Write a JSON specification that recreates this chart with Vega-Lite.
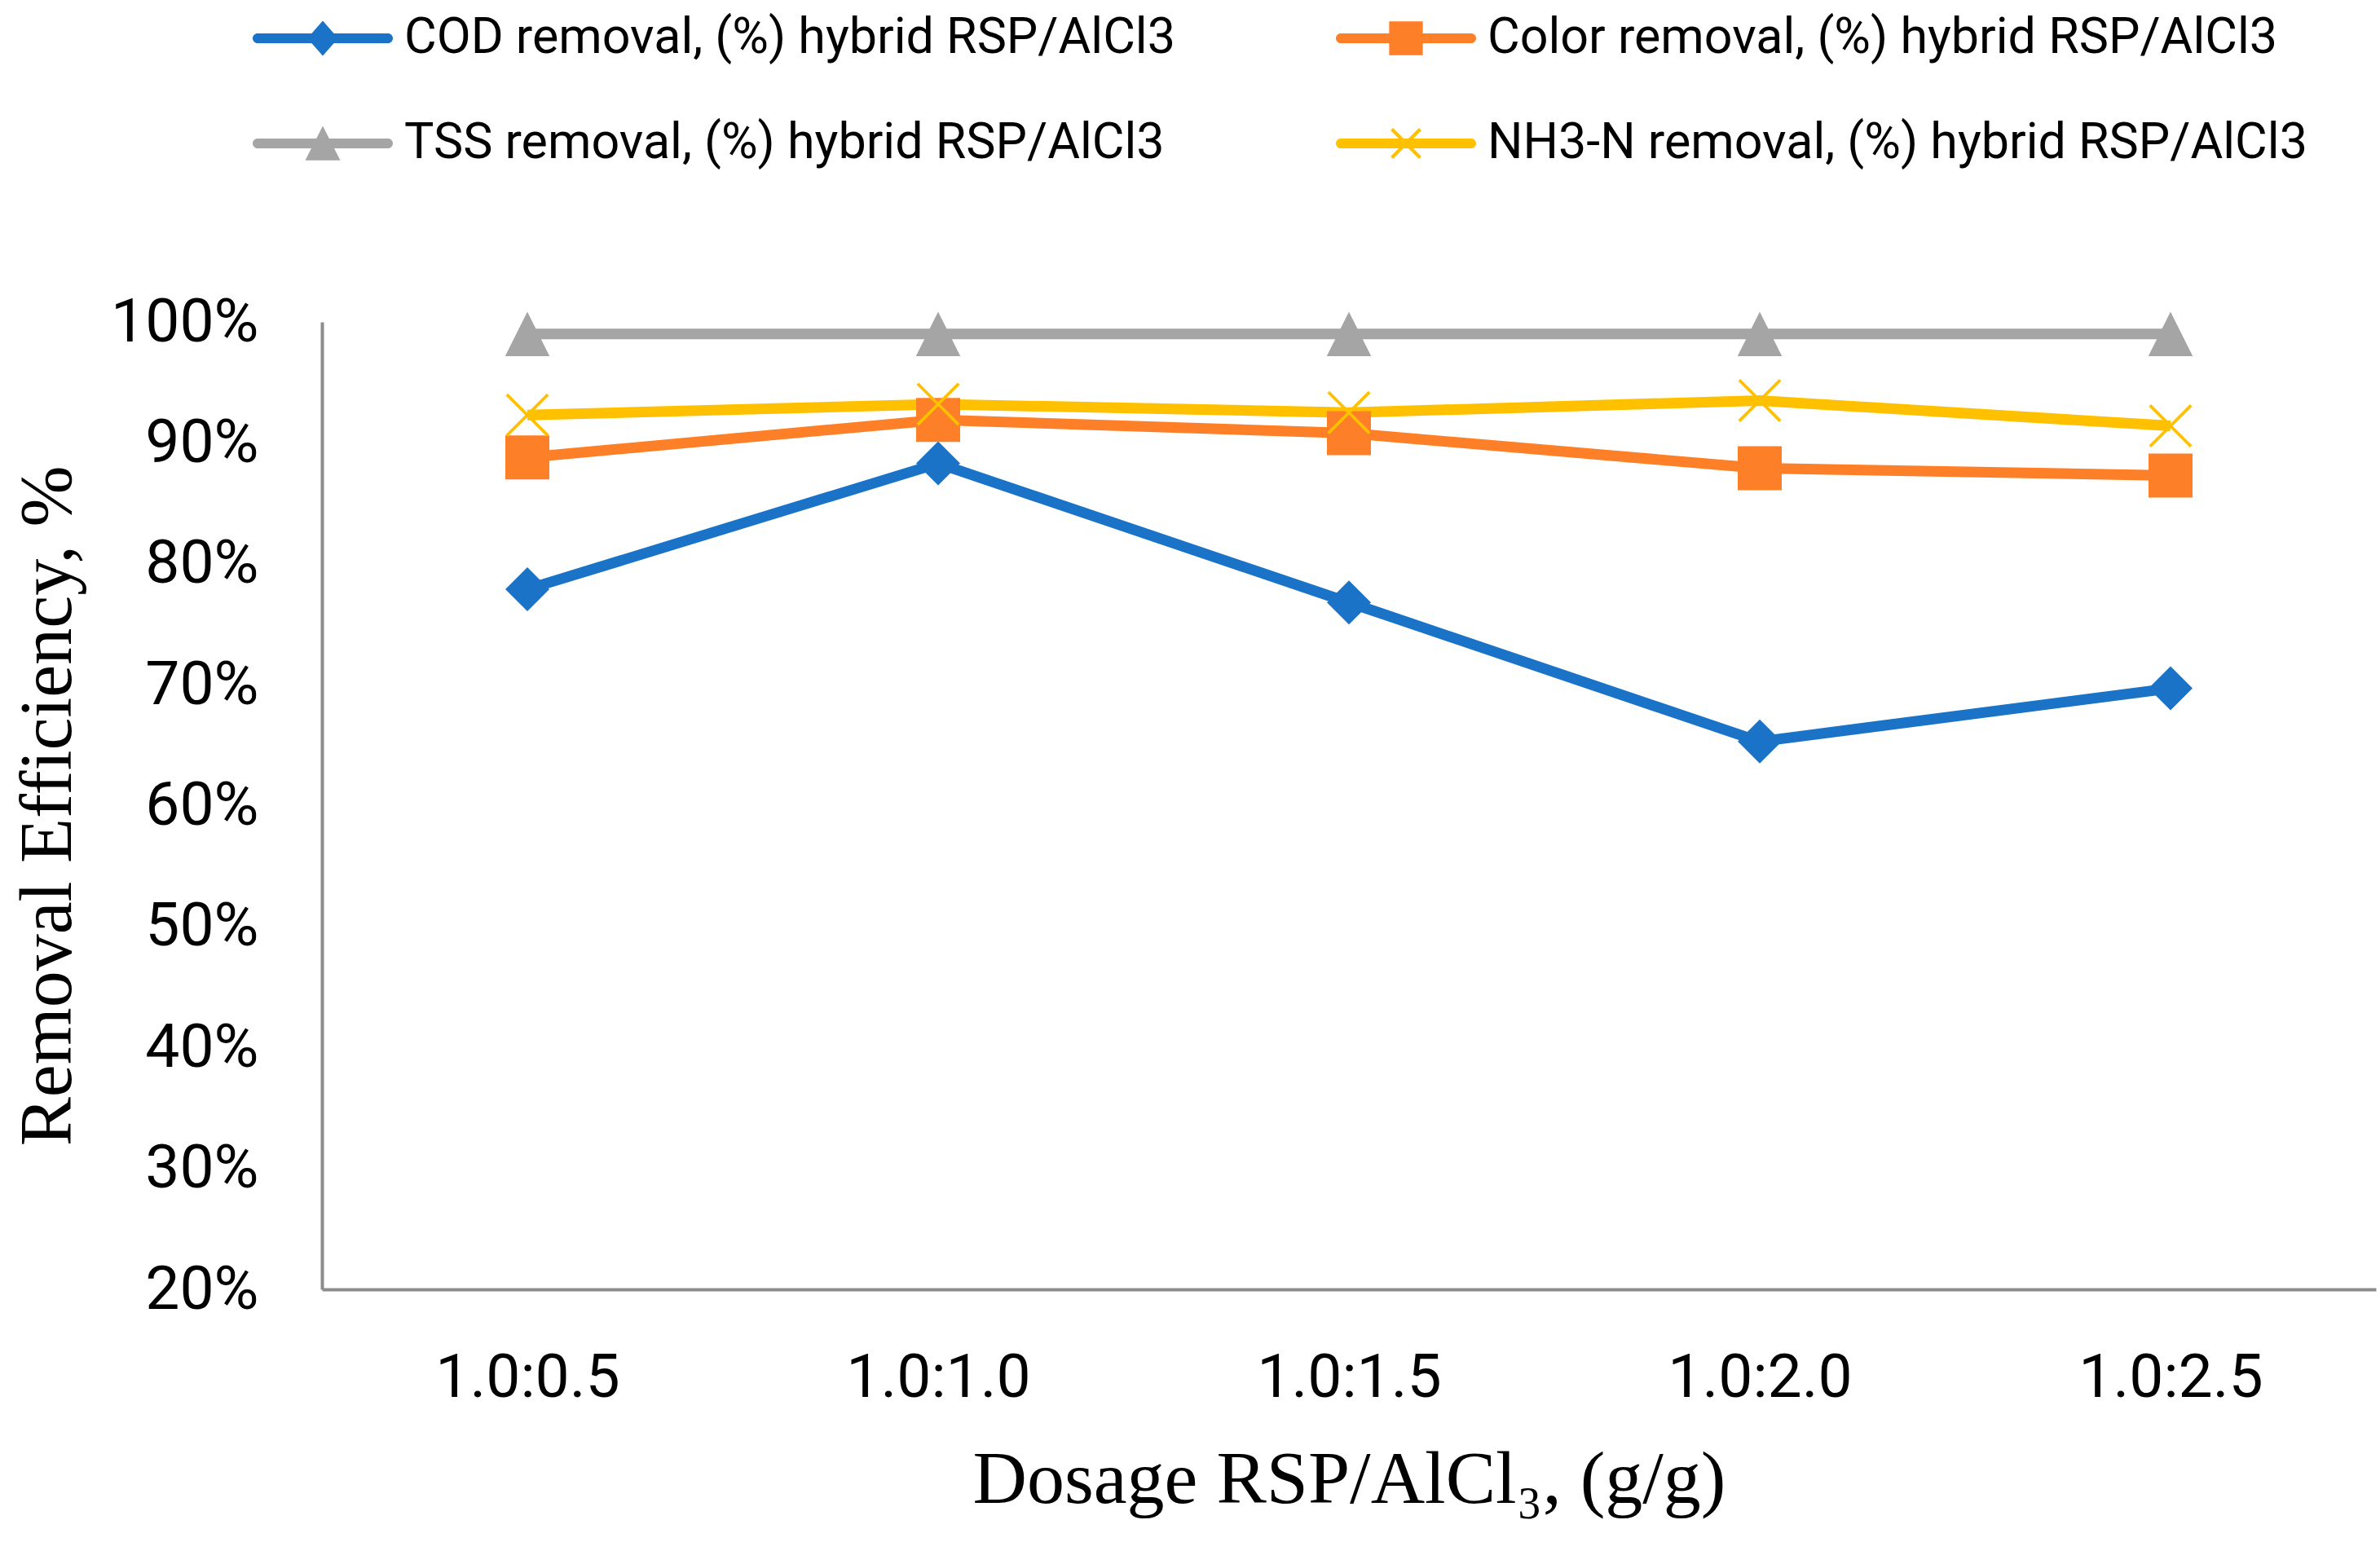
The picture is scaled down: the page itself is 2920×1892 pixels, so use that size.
{
  "$schema": "https://vega.github.io/schema/vega-lite/v6.json",
  "width": 2520,
  "height": 1187,
  "autosize": {"type": "none"},
  "padding": {"left": 395, "top": 395, "right": 5, "bottom": 310},
  "background": "white",
  "config": {"view": {"stroke": null}},
  "data": {"values": [
    {"dosage": "1.0:0.5", "series": "COD removal, (%) hybrid RSP/AlCl3", "value": 0.779},
    {"dosage": "1.0:1.0", "series": "COD removal, (%) hybrid RSP/AlCl3", "value": 0.883},
    {"dosage": "1.0:1.5", "series": "COD removal, (%) hybrid RSP/AlCl3", "value": 0.768},
    {"dosage": "1.0:2.0", "series": "COD removal, (%) hybrid RSP/AlCl3", "value": 0.653},
    {"dosage": "1.0:2.5", "series": "COD removal, (%) hybrid RSP/AlCl3", "value": 0.697},
    {"dosage": "1.0:0.5", "series": "Color removal, (%) hybrid RSP/AlCl3", "value": 0.888},
    {"dosage": "1.0:1.0", "series": "Color removal, (%) hybrid RSP/AlCl3", "value": 0.919},
    {"dosage": "1.0:1.5", "series": "Color removal, (%) hybrid RSP/AlCl3", "value": 0.908},
    {"dosage": "1.0:2.0", "series": "Color removal, (%) hybrid RSP/AlCl3", "value": 0.879},
    {"dosage": "1.0:2.5", "series": "Color removal, (%) hybrid RSP/AlCl3", "value": 0.873},
    {"dosage": "1.0:0.5", "series": "TSS removal, (%) hybrid RSP/AlCl3", "value": 0.990},
    {"dosage": "1.0:1.0", "series": "TSS removal, (%) hybrid RSP/AlCl3", "value": 0.990},
    {"dosage": "1.0:1.5", "series": "TSS removal, (%) hybrid RSP/AlCl3", "value": 0.990},
    {"dosage": "1.0:2.0", "series": "TSS removal, (%) hybrid RSP/AlCl3", "value": 0.990},
    {"dosage": "1.0:2.5", "series": "TSS removal, (%) hybrid RSP/AlCl3", "value": 0.990},
    {"dosage": "1.0:0.5", "series": "NH3-N removal, (%) hybrid RSP/AlCl3", "value": 0.923},
    {"dosage": "1.0:1.0", "series": "NH3-N removal, (%) hybrid RSP/AlCl3", "value": 0.932},
    {"dosage": "1.0:1.5", "series": "NH3-N removal, (%) hybrid RSP/AlCl3", "value": 0.925},
    {"dosage": "1.0:2.0", "series": "NH3-N removal, (%) hybrid RSP/AlCl3", "value": 0.935},
    {"dosage": "1.0:2.5", "series": "NH3-N removal, (%) hybrid RSP/AlCl3", "value": 0.914}
  ]},
  "encoding": {
    "x": {
      "field": "dosage", "type": "nominal",
      "scale": {"type": "point", "padding": 0.5},
      "axis": {
        "title": "Dosage RSP/AlCl₃, (g/g)",
        "titleFont": "Liberation Serif", "titleFontSize": 92, "titleFontWeight": "normal", "titleColor": "black",
        "titlePadding": 42,
        "labelFont": "Roboto", "labelFontSize": 75, "labelColor": "black", "labelAngle": 0,
        "labelPadding": 72, "labelLimit": 1000,
        "ticks": false, "tickSize": 0, "grid": false,
        "domainColor": "#8C8C8C", "domainWidth": 4
      }
    },
    "y": {
      "field": "value", "type": "quantitative",
      "scale": {"domain": [0.2, 1.0], "nice": false, "zero": false},
      "axis": {
        "title": "Removal Efficiency, %",
        "titleFont": "Liberation Serif", "titleFontSize": 90, "titleFontWeight": "normal", "titleColor": "black",
        "titlePadding": 90,
        "values": [0.2, 0.3, 0.4, 0.5, 0.6, 0.7, 0.8, 0.9, 1.0],
        "format": ".0%",
        "labelFont": "Roboto", "labelFontSize": 75, "labelColor": "black",
        "labelPadding": 78, "labelLimit": 1000,
        "ticks": false, "tickSize": 0, "grid": false,
        "domainColor": "#8C8C8C", "domainWidth": 4
      }
    }
  },
  "layer": [
    {
      "mark": {"type": "line", "strokeWidth": 13, "strokeJoin": "round"},
      "encoding": {
        "stroke": {
          "field": "series", "type": "nominal",
          "scale": {
            "domain": ["NH3-N removal, (%) hybrid RSP/AlCl3", "TSS removal, (%) hybrid RSP/AlCl3", "Color removal, (%) hybrid RSP/AlCl3", "COD removal, (%) hybrid RSP/AlCl3"],
            "range": ["#FFC000", "#A5A5A5", "#FD7F28", "#1A73C6"]
          },
          "legend": null
        }
      }
    },
    {
      "transform": [{"filter": {"field": "series", "equal": "COD removal, (%) hybrid RSP/AlCl3"}}],
      "mark": {"type": "point", "filled": true, "color": "#1A73C6", "opacity": 1, "strokeWidth": 0, "size": 2916, "shape": "M0,-1L1,0L0,1L-1,0Z"}
    },
    {
      "transform": [{"filter": {"field": "series", "equal": "Color removal, (%) hybrid RSP/AlCl3"}}],
      "mark": {"type": "point", "filled": true, "color": "#FD7F28", "opacity": 1, "strokeWidth": 0, "size": 2916, "shape": "M-1,-1L1,-1L1,1L-1,1Z"}
    },
    {
      "transform": [{"filter": {"field": "series", "equal": "TSS removal, (%) hybrid RSP/AlCl3"}}],
      "mark": {"type": "point", "filled": true, "color": "#A5A5A5", "opacity": 1, "strokeWidth": 0, "size": 2970, "shape": "M0,-1L1,1L-1,1Z"}
    },
    {
      "transform": [{"filter": {"field": "series", "equal": "NH3-N removal, (%) hybrid RSP/AlCl3"}}],
      "mark": {"type": "point", "filled": true, "color": "#FFC000", "opacity": 1, "strokeWidth": 0, "size": 2809, "shape": "M-1,-0.9L-0.9,-1L1,0.9L0.9,1ZM0.9,-1L1,-0.9L-0.9,1L-1,0.9Z"}
    },
    {
      "mark": {"type": "point", "filled": true, "opacity": 0, "strokeWidth": 0, "size": 29584},
      "encoding": {
        "color": {
          "field": "series", "type": "nominal",
          "scale": {
            "domain": ["COD removal, (%) hybrid RSP/AlCl3", "Color removal, (%) hybrid RSP/AlCl3", "TSS removal, (%) hybrid RSP/AlCl3", "NH3-N removal, (%) hybrid RSP/AlCl3"],
            "range": ["#1A73C6", "#FD7F28", "#A5A5A5", "#FFC000"]
          },
          "legend": {
            "title": null, "orient": "none", "direction": "horizontal", "legendX": -85, "legendY": -434,
            "columns": 2, "columnPadding": 197, "rowPadding": 13, "padding": 0,
            "labelFont": "Roboto", "labelFontSize": 61, "labelColor": "black", "labelLimit": 3000, "labelOffset": 14,
            "symbolSize": 29584, "symbolStrokeWidth": 0, "symbolOpacity": 1
          }
        },
        "shape": {
          "field": "series", "type": "nominal",
          "scale": {
            "domain": ["COD removal, (%) hybrid RSP/AlCl3", "Color removal, (%) hybrid RSP/AlCl3", "TSS removal, (%) hybrid RSP/AlCl3", "NH3-N removal, (%) hybrid RSP/AlCl3"],
            "range": [
              "M-0.93,-0.07L0.93,-0.07A0.07,0.07,0,0,1,0.93,0.07L-0.93,0.07A0.07,0.07,0,0,1,-0.93,-0.07ZM0,-0.25L0.22,0L0,0.25L-0.22,0Z",
              "M-0.93,-0.07L0.93,-0.07A0.07,0.07,0,0,1,0.93,0.07L-0.93,0.07A0.07,0.07,0,0,1,-0.93,-0.07ZM-0.24,-0.24L0.24,-0.24L0.24,0.24L-0.24,0.24Z",
              "M-0.93,-0.07L0.93,-0.07A0.07,0.07,0,0,1,0.93,0.07L-0.93,0.07A0.07,0.07,0,0,1,-0.93,-0.07ZM0,-0.25L0.25,0.24L-0.25,0.24Z",
              "M-0.93,-0.07L0.93,-0.07A0.07,0.07,0,0,1,0.93,0.07L-0.93,0.07A0.07,0.07,0,0,1,-0.93,-0.07ZM-0.22,-0.185L-0.185,-0.22L0.22,0.185L0.185,0.22ZM0.185,-0.22L0.22,-0.185L-0.185,0.22L-0.22,0.185Z"
            ]
          },
          "legend": {
            "title": null, "orient": "none", "direction": "horizontal", "legendX": -85, "legendY": -434,
            "columns": 2, "columnPadding": 197, "rowPadding": 13, "padding": 0,
            "labelFont": "Roboto", "labelFontSize": 61, "labelColor": "black", "labelLimit": 3000, "labelOffset": 14,
            "symbolSize": 29584, "symbolStrokeWidth": 0, "symbolOpacity": 1
          }
        }
      }
    }
  ]
}
